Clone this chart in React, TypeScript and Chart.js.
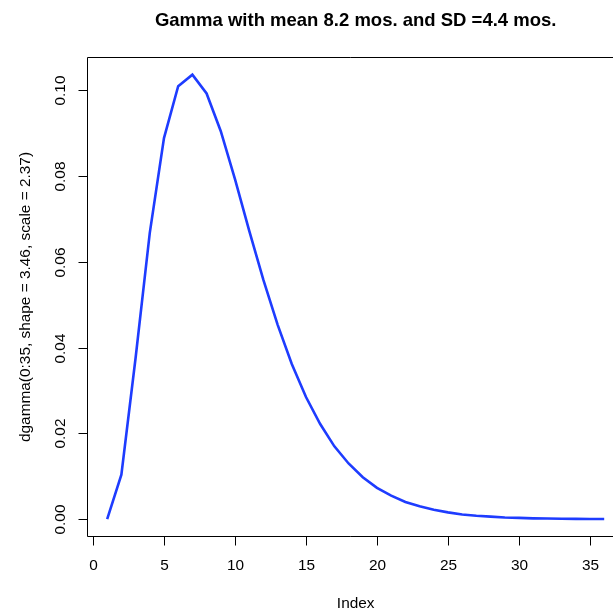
import React, { useEffect, useRef } from "react";
import { Chart, registerables } from "chart.js";

Chart.register(...registerables);

const indexValues = [
  1, 2, 3, 4, 5, 6, 7, 8, 9, 10, 11, 12, 13, 14, 15, 16, 17, 18,
  19, 20, 21, 22, 23, 24, 25, 26, 27, 28, 29, 30, 31, 32, 33, 34, 35, 36,
];
const densityValues = [
  0, 0.0104, 0.0376, 0.0668, 0.0889, 0.101, 0.1037, 0.0993, 0.0905, 0.0793,
  0.0673, 0.0558, 0.0454, 0.0362, 0.0285, 0.0222, 0.017, 0.013, 0.0098,
  0.0073, 0.0055, 0.004, 0.003, 0.0022, 0.0016, 0.0011, 0.0008, 0.0006,
  0.0004, 0.0003, 0.0002, 0.00016, 0.00011, 0.00008, 0.00006, 0.00004,
];
const xTicks = [0, 5, 10, 15, 20, 25, 30, 35];
const yTicks = [0, 0.02, 0.04, 0.06, 0.08, 0.1];
const yTickLabels = ["0.00", "0.02", "0.04", "0.06", "0.08", "0.10"];
const titleText = "Gamma with mean 8.2 mos. and SD =4.4 mos.";
const xLabel = "Index";
const yLabel = "dgamma(0:35, shape = 3.46, scale = 2.37)";

const FONT = '"Liberation Sans", Arial, Helvetica, sans-serif';

const rPlotPlugin = {
  id: "rPlot",
  afterDraw(chart: any) {
    const { ctx, chartArea, scales } = chart;
    const { left, top, bottom, right } = chartArea;
    const xs = scales.x;
    const ys = scales.y;
    ctx.save();
    ctx.strokeStyle = "#000";
    ctx.fillStyle = "#000";
    ctx.lineWidth = 1;
    // box (right side is outside the visible canvas)
    const L = Math.round(left) + 0.5;
    const T = Math.round(top) + 0.5;
    const B = Math.round(bottom) - 0.5;
    ctx.beginPath();
    ctx.moveTo(right + 20, T);
    ctx.lineTo(L, T);
    ctx.lineTo(L, B);
    ctx.lineTo(right + 20, B);
    ctx.stroke();

    // x ticks
    ctx.font = `15.4px ${FONT}`;
    ctx.textAlign = "center";
    ctx.textBaseline = "alphabetic";
    xTicks.forEach((t) => {
      const px = Math.round(xs.getPixelForValue(t)) + 0.5;
      ctx.beginPath();
      ctx.moveTo(px, B);
      ctx.lineTo(px, B + 9);
      ctx.stroke();
      ctx.fillText(String(t), px, 570);
    });

    // y ticks
    yTicks.forEach((t, i) => {
      const py = Math.round(ys.getPixelForValue(t)) + 0.5;
      ctx.beginPath();
      ctx.moveTo(L, py);
      ctx.lineTo(L - 9, py);
      ctx.stroke();
      ctx.save();
      ctx.translate(65, py);
      ctx.rotate(-Math.PI / 2);
      ctx.fillText(yTickLabels[i], 0, 0);
      ctx.restore();
    });

    // title
    const plotCenter = (left + xs.getPixelForValue(37.4)) / 2;
    ctx.font = `bold 18.5px ${FONT}`;
    ctx.fillText(titleText, plotCenter, 25.5);

    // axis titles
    ctx.font = `15.4px ${FONT}`;
    ctx.fillText(xLabel, plotCenter, 608);
    ctx.save();
    ctx.translate(30, (top + bottom) / 2);
    ctx.rotate(-Math.PI / 2);
    ctx.fillText(yLabel, 0, 0);
    ctx.restore();

    ctx.restore();
  },
};

export default function App() {
  const ref = useRef<HTMLCanvasElement | null>(null);
  useEffect(() => {
    if (!ref.current) return;
    const chart = new Chart(ref.current, {
      type: "line",
      data: {
        datasets: [
          {
            data: indexValues.map((x, i) => ({ x, y: densityValues[i] })),
            borderColor: "#1e3cff",
            borderWidth: 2.6,
            pointRadius: 0,
            fill: false,
            tension: 0,
          },
        ],
      },
      options: {
        responsive: false,
        animation: false,
        layout: { padding: { left: 87.3, top: 57, right: 0, bottom: 73 } },
        plugins: {
          legend: { display: false },
          tooltip: { enabled: false },
          title: { display: false },
        },
        scales: {
          x: { type: "linear", min: -0.4, max: 36.62, display: false },
          y: { type: "linear", min: -0.00415, max: 0.10781, display: false },
        },
      },
      plugins: [rPlotPlugin],
    });
    return () => chart.destroy();
  }, []);
  return (
    <div style={{ position: "absolute", left: 0, top: 0, width: 613, height: 610, background: "#fff" }}>
      <canvas ref={ref} width={613} height={610} />
    </div>
  );
}
